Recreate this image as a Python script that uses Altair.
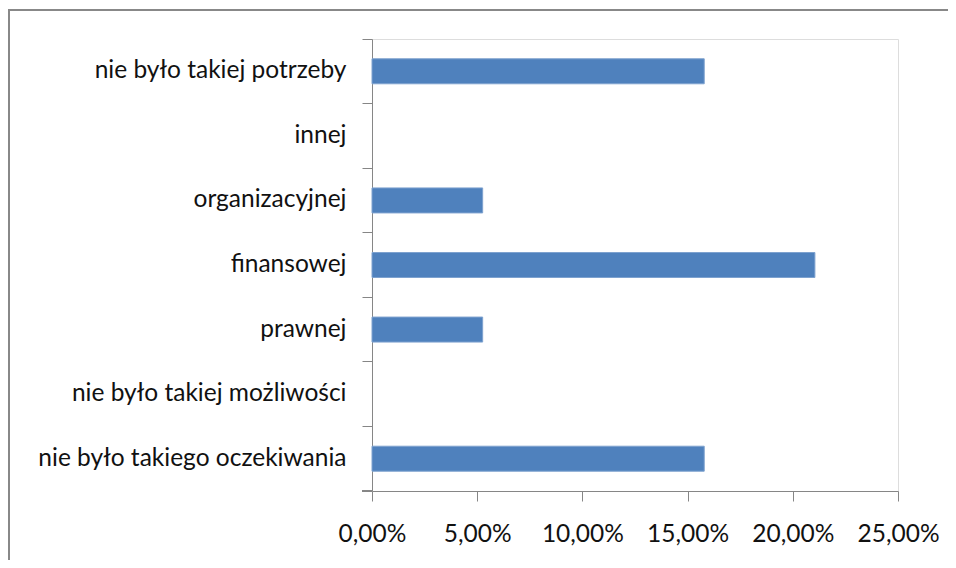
import altair as alt
import pandas as pd

categories = [
    "nie było takiej potrzeby",
    "innej",
    "organizacyjnej",
    "finansowej",
    "prawnej",
    "nie było takiej możliwości",
    "nie było takiego oczekiwania",
]
values = [0.1579, 0.0, 0.0526, 0.2105, 0.0526, 0.0, 0.1579]
x_ticks = [0.0, 0.05, 0.10, 0.15, 0.20, 0.25]

df = pd.DataFrame({"kategoria": categories, "wartosc": values})

W, H = 526, 452
FONT = "Lato"
FS = 24.5
AXIS_COLOR = "#868686"

bars = alt.Chart(df).transform_filter("datum.wartosc > 0").mark_bar(
    size=25, color="#4F81BD", stroke="#7EA2CF", strokeWidth=1
).encode(
    x=alt.X(
        "wartosc:Q",
        scale=alt.Scale(domain=[0, 0.25], nice=False),
        axis=alt.Axis(
            values=x_ticks,
            labelExpr="replace(format(datum.value, '.2%'), '.', ',')",
            title=None,
            grid=False,
            tickSize=10,
            tickColor=AXIS_COLOR,
            domainColor=AXIS_COLOR,
            labelPadding=21,
            labelFont=FONT,
            labelFontSize=FS,
            labelColor="#111111",
            labelOverlap=False,
            labelFlush=False,
        ),
    ),
    y=alt.Y(
        "kategoria:N",
        sort=categories,
        scale=alt.Scale(domain=categories, paddingInner=0, paddingOuter=0),
        axis=alt.Axis(
            title=None,
            bandPosition=0,
            tickSize=10,
            tickColor=AXIS_COLOR,
            domainColor=AXIS_COLOR,
            labelPadding=16,
            labelFont=FONT,
            labelFontSize=FS,
            labelColor="#111111",
            labelLimit=400,
        ),
    ),
)

bottom_tick = alt.Chart(df).mark_rule(color=AXIS_COLOR, strokeWidth=1).encode(
    x=alt.value(-10), x2=alt.value(0), y=alt.value(H)
)
border_left = alt.Chart(df).mark_rule(color="#888888", strokeWidth=2).encode(
    x=alt.value(-363), y=alt.value(-29), y2=alt.value(H + 69)
)
border_top = alt.Chart(df).mark_rule(color="#888888", strokeWidth=2).encode(
    x=alt.value(-364), x2=alt.value(W + 50), y=alt.value(-29)
)

chart = alt.layer(bars, bottom_tick, border_left, border_top).properties(
    width=W,
    height=H,
    autosize=alt.AutoSizeParams(type="none"),
    padding={"left": 364, "top": 31, "right": 50, "bottom": 69},
).configure_view(stroke=None).configure(background="white")

chart.save("out.html", embed_options={"renderer": "svg", "actions": False})
